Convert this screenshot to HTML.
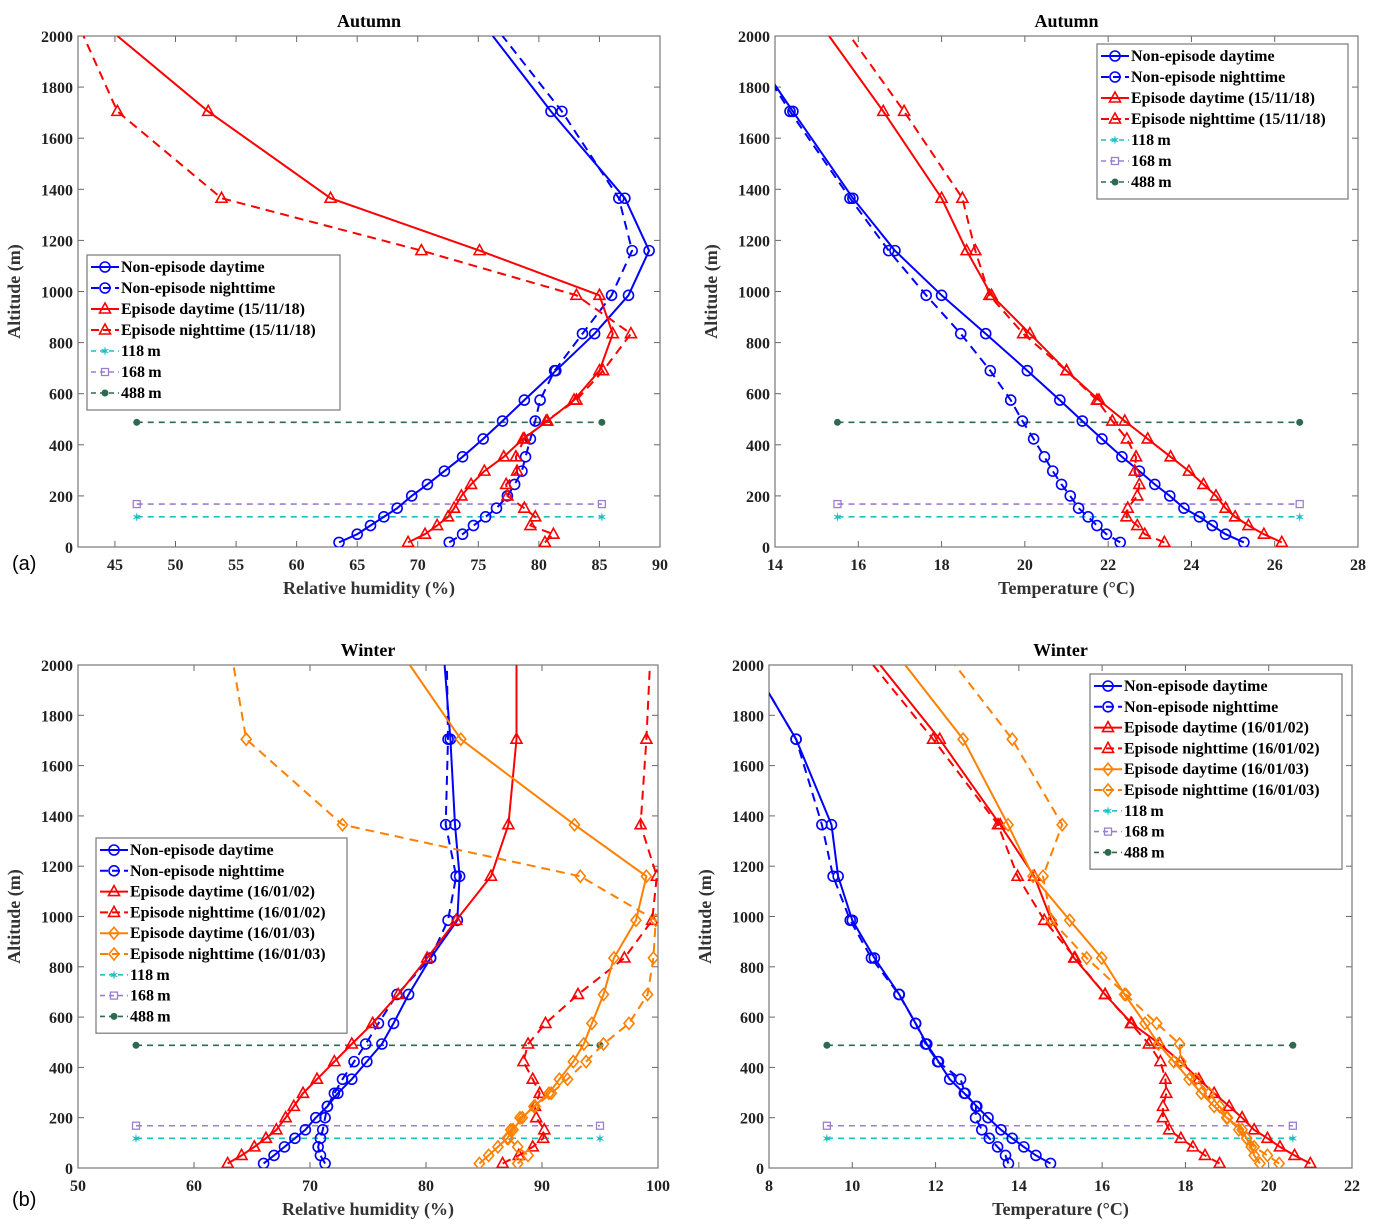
<!DOCTYPE html>
<html><head><meta charset="utf-8">
<style>
html,body{margin:0;padding:0;background:#fff;}
svg{display:block;font-family:"Liberation Serif",serif;}
svg text{font-family:"Liberation Serif",serif;}
.tk{font-size:16px;font-weight:bold;fill:#222;font-family:"Liberation Serif",serif;}
.lg{font-size:16px;font-weight:bold;fill:#000;font-family:"Liberation Serif",serif;}
.ttl{font-size:18px;font-weight:bold;font-family:"Liberation Serif",serif;}
.axl{font-size:18px;font-weight:bold;fill:#333;font-family:"Liberation Serif",serif;}
svg text.pl{font-family:"Liberation Sans",sans-serif;font-size:20px;}
</style></head>
<body>
<svg id="chart" width="1380" height="1232" viewBox="0 0 1380 1232" xmlns="http://www.w3.org/2000/svg"></svg>
<script>
const alts=[18,50,84,118,152,200,245,297,353,423,493,575,690,835,985,1160,1365,1705,2000];
const refLines=[118,168,488];
const refLabels=["118\u2009m","168\u2009m","488\u2009m"];
// Autumn RH
const aNED=[63.5,65.0,66.1,67.2,68.3,69.5,70.8,72.2,73.7,75.4,77.0,78.8,81.4,84.6,87.4,89.1,87.1,81.0,76.2];
const aNEN=[72.6,73.7,74.6,75.6,76.5,77.4,78.0,78.6,78.9,79.3,79.7,80.1,81.3,83.6,86.0,87.7,86.6,81.9,77.0];
const aED=[69.2,70.6,71.6,72.5,73.0,73.6,74.4,75.5,77.1,78.7,80.7,82.9,85.0,86.1,85.0,75.1,62.8,52.7,45.2];
const aEN=[80.5,81.2,79.3,79.7,78.8,77.4,77.3,78.2,78.1,78.8,80.6,83.1,85.3,87.6,83.1,70.3,53.8,45.2,42.4];
// Autumn T
const bNED=[25.26,24.82,24.50,24.19,23.82,23.48,23.12,22.75,22.33,21.85,21.38,20.84,20.06,19.06,18.0,16.88,15.87,14.43,13.2];
const bNEN=[22.29,21.96,21.73,21.52,21.29,21.09,20.88,20.67,20.47,20.21,19.94,19.66,19.17,18.46,17.63,16.73,15.8,14.36,13.2];
const bED=[26.17,25.74,25.37,25.05,24.82,24.59,24.29,23.94,23.5,22.95,22.4,21.78,21.0,20.12,19.2,18.6,18.0,16.6,15.3];
const bEN=[23.35,22.88,22.70,22.44,22.47,22.70,22.75,22.64,22.67,22.45,22.1,21.73,21.0,19.96,19.15,18.81,18.5,17.1,15.8];
// Winter RH
const cNED=[66.0,66.9,67.8,68.7,69.6,70.5,71.5,72.4,73.6,74.9,76.2,77.2,78.5,80.4,82.7,82.9,82.5,82.1,81.6];
const cNEN=[71.3,70.9,70.7,70.9,71.1,71.3,71.5,72.1,72.8,73.8,74.8,75.9,77.5,80.4,81.9,82.6,81.7,81.9,81.8];
const cED=[62.9,64.1,65.2,66.2,67.1,67.9,68.6,69.4,70.6,72.1,73.6,75.4,77.6,80.1,82.6,85.6,87.1,87.8,87.8];
const cEN=[86.6,88.0,89.2,90.1,90.2,89.5,89.4,89.8,89.2,88.4,88.8,90.3,93.1,97.1,99.5,99.9,98.5,99.0,99.3];
const cOD=[84.6,85.4,86.2,87.0,87.5,88.3,89.3,90.6,91.5,92.7,93.6,94.3,95.3,96.2,98.1,99.0,92.8,83.0,78.6];
const cON=[87.9,88.8,87.9,87.1,87.3,88.1,89.4,90.8,92.2,93.8,95.3,97.5,99.1,99.6,99.8,93.3,72.8,64.5,63.4];
// Winter T
const dNED=[14.76,14.41,14.12,13.84,13.57,13.26,12.99,12.69,12.34,12.07,11.79,11.52,11.13,10.53,10.0,9.66,9.5,8.65,7.6];
const dNEN=[13.75,13.68,13.49,13.29,13.11,12.96,12.97,12.71,12.6,12.05,11.76,11.52,11.12,10.46,9.95,9.54,9.27,8.65,7.6];
const dED=[21.0,20.62,20.27,19.97,19.65,19.36,19.05,18.69,18.32,17.88,17.38,16.71,16.07,15.33,14.78,14.37,13.55,12.1,10.67];
const dEN=[18.82,18.47,18.18,17.89,17.61,17.46,17.46,17.54,17.52,17.4,17.12,16.69,16.07,15.35,14.61,13.97,13.5,11.94,10.5];
const dOD=[19.79,19.65,19.58,19.47,19.36,18.99,18.69,18.38,18.09,17.72,17.35,17.03,16.54,15.99,15.22,14.34,13.74,12.66,11.27];
const dON=[20.25,19.97,19.65,19.47,19.28,19.01,18.82,18.57,18.25,17.89,17.86,17.31,16.57,15.63,14.78,14.58,15.04,13.84,12.47];
const yTicks=[0,200,400,600,800,1000,1200,1400,1600,1800,2000];

const NS="http://www.w3.org/2000/svg";
const svg=document.getElementById('chart');
function mk(tag,attrs,parent){const e=document.createElementNS(NS,tag);for(const k in attrs)e.setAttribute(k,attrs[k]);(parent||svg).appendChild(e);return e;}
function marker(g,type,x,y,color){
  let m;
  if(type==='o') m=mk('circle',{cx:x,cy:y,r:5,fill:'none',stroke:color,'stroke-width':1.6},g);
  else if(type==='t') m=mk('polygon',{points:`${x},${y-6} ${x-5.5},${y+4} ${x+5.5},${y+4}`,fill:'none',stroke:color,'stroke-width':1.6},g);
  else if(type==='d') m=mk('polygon',{points:`${x},${y-6} ${x+5},${y} ${x},${y+6} ${x-5},${y}`,fill:'none',stroke:color,'stroke-width':1.6},g);
  else if(type==='x') m=mk('text',{x:x,y:y+4,'text-anchor':'middle','font-size':11,fill:color,'font-weight':'bold'},g),m.textContent='\u2736';
  else if(type==='s') m=mk('rect',{x:x-3.5,y:y-3.5,width:7,height:7,fill:'none',stroke:color,'stroke-width':1.3},g);
  else if(type==='f') m=mk('circle',{cx:x,cy:y,r:3.5,fill:color},g);
  
  
  return m;
}
let pid=0;
function panel(cfg){
  pid++;
  const g=mk('g',{});
  
  
  const X=v=>cfg.x0+(v-cfg.xmin)/(cfg.xmax-cfg.xmin)*(cfg.x1-cfg.x0);
  const Y=a=>cfg.y1-a/2000*(cfg.y1-cfg.y0);
  const cp=mk('clipPath',{id:'cp'+pid},g);
  mk('rect',{x:cfg.x0,y:cfg.y0,width:cfg.x1-cfg.x0,height:cfg.y1-cfg.y0},cp);
  cfg.xt.forEach(t=>{
    const x=X(t);
    mk('line',{x1:x,x2:x,y1:cfg.y1,y2:cfg.y1-6,stroke:'#666','stroke-width':1},g);
    mk('line',{x1:x,x2:x,y1:cfg.y0,y2:cfg.y0+6,stroke:'#666','stroke-width':1},g);
    const l=mk('text',{x:x,y:cfg.y1+23,'text-anchor':'middle',class:'tk'},g);l.textContent=t;
    
  });
  yTicks.forEach(t=>{
    const y=Y(t);
    mk('line',{x1:cfg.x0,x2:cfg.x0+6,y1:y,y2:y,stroke:'#666','stroke-width':1},g);
    mk('line',{x1:cfg.x1,x2:cfg.x1-6,y1:y,y2:y,stroke:'#666','stroke-width':1},g);
    const l=mk('text',{x:cfg.x0-5,y:y+6,'text-anchor':'end',class:'tk'},g);l.textContent=t;
    
  });
  const frame=mk('rect',{x:cfg.x0,y:cfg.y0,width:cfg.x1-cfg.x0,height:cfg.y1-cfg.y0,fill:'none',stroke:'#777','stroke-width':1.2},g);
  
  const dg=mk('g',{'clip-path':`url(#cp${pid})`},g);
  const refC=['#1fbfc4','#9b7fd0','#2d6a50'],refM=['x','s','f'];
  refLines.forEach((a,i)=>{
    const pl=mk('line',{x1:X(cfg.r0),x2:X(cfg.r1),y1:Y(a),y2:Y(a),stroke:refC[i],'stroke-width':1.6,'stroke-dasharray':'6,5'},dg);
    
    marker(dg,refM[i],X(cfg.r0),Y(a),refC[i]);marker(dg,refM[i],X(cfg.r1),Y(a),refC[i]);
  });
  cfg.series.forEach(s=>{
    const pts=s.v.map((v,i)=>X(v).toFixed(1)+','+Y(alts[i]).toFixed(1)).join(' ');
    const pl=mk('polyline',{points:pts,fill:'none',stroke:s.c,'stroke-width':2,'stroke-dasharray':s.dash?'9,6':'none'},dg);
    
    s.v.forEach((v,i)=>{if(alts[i]<2000)marker(dg,s.m,X(v),Y(alts[i]),s.c);});
  });
  const L=cfg.leg, rows=cfg.series.map(s=>({t:s.t,c:s.c,m:s.m,dash:s.dash})).concat(refLabels.map((t,i)=>({t:t,c:refC[i],m:refM[i],dash:2})));
  const lg=mk('g',{},g);
  const rh=L.rh;
  mk('rect',{x:L.x,y:L.y,width:L.w,height:rows.length*rh+8,fill:'#fff',stroke:'#777','stroke-width':1.2},lg);
  rows.forEach((r,i)=>{
    const y=L.y+12+i*rh;
    const e=mk('g',{},lg);
    mk('line',{x1:L.x+4,x2:L.x+32,y1:y,y2:y,stroke:r.c,'stroke-width':r.dash===2?1.6:2,'stroke-dasharray':r.dash?(r.dash===2?'5,4':'8,4'):'none'},e);
    marker(e,r.m,L.x+18,y,r.c);
    const t=mk('text',{x:L.x+34,y:y+5,class:'lg'},e);t.textContent=r.t;
  });
  const tt=mk('text',{x:(cfg.x0+cfg.x1)/2,y:cfg.y0-9,'text-anchor':'middle',class:'ttl'},g);tt.textContent=cfg.title;
  
  const xl=mk('text',{x:(cfg.x0+cfg.x1)/2,y:cfg.y1+47,'text-anchor':'middle',class:'axl'},g);xl.textContent=cfg.xlabel;
  
  const cy=(cfg.y0+cfg.y1)/2, cx=cfg.x0-58;
  const yl=mk('text',{x:cx,y:cy,'text-anchor':'middle',class:'axl',transform:`rotate(-90 ${cx} ${cy})`},g);yl.textContent='Altitude (m)';
  
}
const B='#0000ff',R='#ff0000',O='#ff8000';
panel({name:'autumn-rh-panel',title:'Autumn',xlabel:'Relative  humidity (%)',x0:78,x1:660,y0:36,y1:547,xmin:41.95,xmax:90,xt:[45,50,55,60,65,70,75,80,85,90],r0:46.8,r1:85.2,
 leg:{x:87,y:255,w:253,rh:21},
 series:[{v:aNED,c:B,m:'o',t:'Non-episode daytime',n:'non-episode-daytime-line'},{v:aNEN,c:B,m:'o',dash:1,t:'Non-episode nighttime',n:'non-episode-nighttime-line'},
 {v:aED,c:R,m:'t',t:'Episode daytime (15/11/18)',n:'episode-daytime-line'},{v:aEN,c:R,m:'t',dash:1,t:'Episode nighttime (15/11/18)',n:'episode-nighttime-line'}]});
panel({name:'autumn-temperature-panel',title:'Autumn',xlabel:'Temperature (\u00b0C)',x0:775,x1:1358,y0:36,y1:547,xmin:14,xmax:28,xt:[14,16,18,20,22,24,26,28],r0:15.5,r1:26.6,
 leg:{x:1097,y:44,w:251,rh:21},
 series:[{v:bNED,c:B,m:'o',t:'Non-episode daytime',n:'non-episode-daytime-line'},{v:bNEN,c:B,m:'o',dash:1,t:'Non-episode nighttime',n:'non-episode-nighttime-line'},
 {v:bED,c:R,m:'t',t:'Episode daytime (15/11/18)',n:'episode-daytime-line'},{v:bEN,c:R,m:'t',dash:1,t:'Episode nighttime (15/11/18)',n:'episode-nighttime-line'}]});
panel({name:'winter-rh-panel',title:'Winter',xlabel:'Relative  humidity (%)',x0:78,x1:658,y0:665,y1:1168,xmin:50,xmax:100,xt:[50,60,70,80,90,100],r0:55,r1:95,
 leg:{x:96,y:838,w:251,rh:20.8},
 series:[{v:cNED,c:B,m:'o',t:'Non-episode daytime',n:'non-episode-daytime-line'},{v:cNEN,c:B,m:'o',dash:1,t:'Non-episode nighttime',n:'non-episode-nighttime-line'},
 {v:cED,c:R,m:'t',t:'Episode daytime (16/01/02)',n:'episode-daytime-0102-line'},{v:cEN,c:R,m:'t',dash:1,t:'Episode nighttime (16/01/02)',n:'episode-nighttime-0102-line'},
 {v:cOD,c:O,m:'d',t:'Episode daytime (16/01/03)',n:'episode-daytime-0103-line'},{v:cON,c:O,m:'d',dash:1,t:'Episode nighttime (16/01/03)',n:'episode-nighttime-0103-line'}]});
panel({name:'winter-temperature-panel',title:'Winter',xlabel:'Temperature (\u00b0C)',x0:769,x1:1352,y0:665,y1:1168,xmin:8,xmax:22,xt:[8,10,12,14,16,18,20,22],r0:9.39,r1:20.58,
 leg:{x:1090,y:674,w:252,rh:20.8},
 series:[{v:dNED,c:B,m:'o',t:'Non-episode daytime',n:'non-episode-daytime-line'},{v:dNEN,c:B,m:'o',dash:1,t:'Non-episode nighttime',n:'non-episode-nighttime-line'},
 {v:dED,c:R,m:'t',t:'Episode daytime (16/01/02)',n:'episode-daytime-0102-line'},{v:dEN,c:R,m:'t',dash:1,t:'Episode nighttime (16/01/02)',n:'episode-nighttime-0102-line'},
 {v:dOD,c:O,m:'d',t:'Episode daytime (16/01/03)',n:'episode-daytime-0103-line'},{v:dON,c:O,m:'d',dash:1,t:'Episode nighttime (16/01/03)',n:'episode-nighttime-0103-line'}]});
const la=mk('text',{x:12,y:570,class:'pl'});la.textContent='(a)';

const lb=mk('text',{x:12,y:1206,class:'pl'});lb.textContent='(b)';

</script>
</body></html>
